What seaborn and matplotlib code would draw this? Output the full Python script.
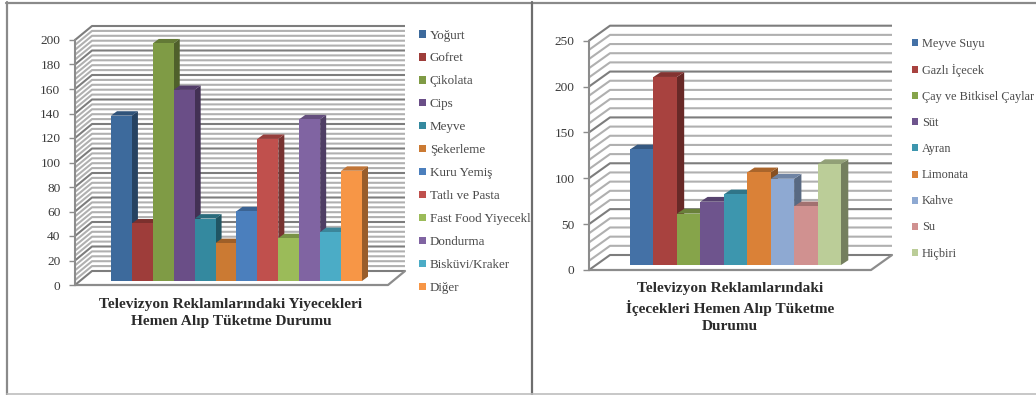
import matplotlib
matplotlib.use("Agg")
import matplotlib.pyplot as plt
import numpy as np
import pandas as pd
import seaborn as sns
from matplotlib.lines import Line2D
from matplotlib.patches import Patch, Polygon
from matplotlib.colors import to_rgb
from matplotlib.transforms import Bbox

FIG_W, FIG_H = 1036, 395

food_labels = ["Yoğurt", "Gofret", "Çikolata", "Cips", "Meyve", "Şekerleme", "Kuru Yemiş",
               "Tatlı ve Pasta", "Fast Food Yiyecekleri", "Dondurma", "Bisküvi/Kraker", "Diğer"]
food_values = [135, 47, 194, 156, 51, 31, 57, 116, 35, 132, 40, 90]
food_colors = ["#3D6A9C", "#9E3D3A", "#7F9B45", "#6A4E87", "#34899F", "#CB7A33",
               "#4B7FBD", "#C0504D", "#9BBB59", "#8064A2", "#4BACC6", "#F79646"]
food_title = "Televizyon Reklamlarındaki Yiyecekleri\nHemen Alıp Tüketme Durumu"

drink_labels = ["Meyve Suyu", "Gazlı İçecek", "Çay ve Bitkisel Çaylar", "Süt", "Ayran",
                "Limonata", "Kahve", "Su", "Hiçbiri"]
drink_values = [126, 205, 56, 69, 77, 101, 94, 64, 110]
drink_colors = ["#4471A6", "#A8423F", "#86A44A", "#6E548D", "#3D96AE",
                "#DA8137", "#8EA9D2", "#D09190", "#BBCD98"]
drink_title = "Televizyon Reklamlarındaki\nİçecekleri Hemen Alıp Tüketme\nDurumu"

sns.set_theme(style="white")
plt.rcParams["font.family"] = ["Liberation Serif", "DejaVu Serif"]

fig = plt.figure(figsize=(FIG_W / 100, FIG_H / 100), dpi=100, facecolor="white")


def px_axes(left, right, top, bottom, zorder):
    """Transparent axes positioned by pixel edges, measured from the top left."""
    ax = fig.add_axes([left / FIG_W, 1 - bottom / FIG_H,
                       (right - left) / FIG_W, (bottom - top) / FIG_H], zorder=zorder)
    ax.patch.set_alpha(0)
    return ax


def shade(color, factor):
    return tuple(c * factor for c in to_rgb(color))


def draw_panel(labels, values, colors, title, ymax, major, minor,
               wall_x, floor_right, y0, ytop, wall_dx, wall_dy,
               bar_left, bar_right, bar_y0, bar_dx, bar_dy,
               title_x, title_y, legend_xy, legend_gap, legend_size, clip_right=None):
    per_unit = (y0 - ytop) / ymax
    depth_v = wall_dy / per_unit

    # Room: back wall, side wall and floor, with ticks on the front edge
    room = px_axes(wall_x, floor_right, ytop, y0, 1)
    room.set_xlim(0, floor_right - wall_x)
    room.set_ylim(0, ymax)
    for level in np.arange(0, ymax + minor / 2, minor):
        is_major = abs(level / major - round(level / major)) < 1e-9
        col, lw = ("#7D7D7D", 1.5) if is_major else ("#B0B0B0", 1.5)
        room.plot([0, wall_dx, floor_right - wall_x + wall_dx],
                  [level, level + depth_v, level + depth_v],
                  color=col, lw=lw, clip_on=False, solid_capstyle="butt", zorder=2)
    room.plot([0, floor_right - wall_x, floor_right - wall_x + wall_dx],
              [0, 0, depth_v], color="#8C8C8C", lw=1.6, clip_on=False, zorder=3)
    sns.despine(ax=room, top=True, right=True, bottom=True, left=False)
    room.spines["left"].set_color("#8C8C8C")
    room.spines["left"].set_linewidth(1.5)
    room.set_xticks([])
    room.set_yticks(np.arange(0, ymax + 1, major))
    room.tick_params(axis="y", left=True, length=4, width=1, color="#8C8C8C",
                     pad=6.5, labelsize=9.6, labelcolor="#3A3A3A")

    # Bars stand a little inside the room
    bars = px_axes(bar_left, bar_right, ytop + (bar_y0 - y0), bar_y0, 2)
    frame = pd.DataFrame({"label": labels, "value": values})
    sns.barplot(data=frame, x="label", y="value", hue="label", order=labels, hue_order=labels,
                palette=colors, width=1, saturation=1, dodge=False, legend=False,
                linewidth=0, ax=bars)
    bars.set_xlim(-0.5, len(labels) - 0.5)
    bars.set_ylim(0, ymax)
    bars.axis("off")

    unit_px = (bar_right - bar_left) / len(labels)
    dx = bar_dx / unit_px
    dy = bar_dy / per_unit
    for i, patch in enumerate(sorted(bars.patches, key=lambda p: p.get_x())):
        x0 = patch.get_x()
        x1 = x0 + patch.get_width()
        v = patch.get_height()
        base = to_rgb(colors[i])
        order = 10 + 2 * i
        patch.set_zorder(order + 1)
        patch.set_clip_on(False)
        bars.add_patch(Polygon([(x1, 0), (x1, v), (x1 + dx, v + dy), (x1 + dx, dy)],
                               closed=True, fc=shade(base, 0.62), ec="none",
                               zorder=order, clip_on=False))
        bars.add_patch(Polygon([(x0, v), (x1, v), (x1 + dx, v + dy), (x0 + dx, v + dy)],
                               closed=True, fc=shade(base, 0.78), ec="none",
                               zorder=order, clip_on=False))

    fig.text(title_x / FIG_W, 1 - title_y / FIG_H, title, ha="center", va="top",
             fontsize=11.1, fontweight="bold", color="#2B2B2B", linespacing=1.38)

    handles = [Patch(fc=c, ec="none", label=l) for c, l in zip(colors, labels)]
    legend = fig.legend(handles=handles, loc="upper left", frameon=False,
                        bbox_to_anchor=(legend_xy[0] / FIG_W, 1 - legend_xy[1] / FIG_H),
                        bbox_transform=fig.transFigure, borderpad=0, borderaxespad=0,
                        fontsize=legend_size, labelcolor="#4A4A4A",
                        handlelength=0.5, handleheight=0.5,
                        handletextpad=0.33, labelspacing=legend_gap)
    if clip_right is not None:
        # Long entries are cut off at the panel divider
        for text in legend.get_texts():
            text.set_clip_on(True)
            text.set_clip_box(Bbox([[0, 0], [clip_right, FIG_H]]))


draw_panel(food_labels, food_values, food_colors, food_title, 200, 20, 4,
           wall_x=75, floor_right=388, y0=285, ytop=40, wall_dx=17, wall_dy=14,
           bar_left=111, bar_right=362, bar_y0=281, bar_dx=6, bar_dy=4.4,
           title_x=231, title_y=298, legend_xy=(419, 29.5), legend_gap=0.84, legend_size=9.4,
           clip_right=531)

draw_panel(drink_labels, drink_values, drink_colors, drink_title, 250, 50, 10,
           wall_x=589, floor_right=871, y0=270, ytop=40.7, wall_dx=21, wall_dy=15,
           bar_left=630, bar_right=841, bar_y0=265, bar_dx=7.3, bar_dy=4.8,
           title_x=730, title_y=282, legend_xy=(912, 38), legend_gap=1.15, legend_size=8.8)

# Panel borders
for xs, ys, col, lw in [((6, 1036), (2.5, 2.5), "#8A8A8A", 1.6),
                        ((7.3, 7.3), (2, 395), "#8A8A8A", 1.6),
                        ((531.5, 531.5), (2, 395), "#6E6E6E", 1.6),
                        ((7, 1036), (394.3, 394.3), "#BDBDBD", 1.2)]:
    fig.add_artist(Line2D([x / FIG_W for x in xs], [1 - y / FIG_H for y in ys],
                          color=col, lw=lw, zorder=5))

fig.savefig("out.png", dpi=100)
